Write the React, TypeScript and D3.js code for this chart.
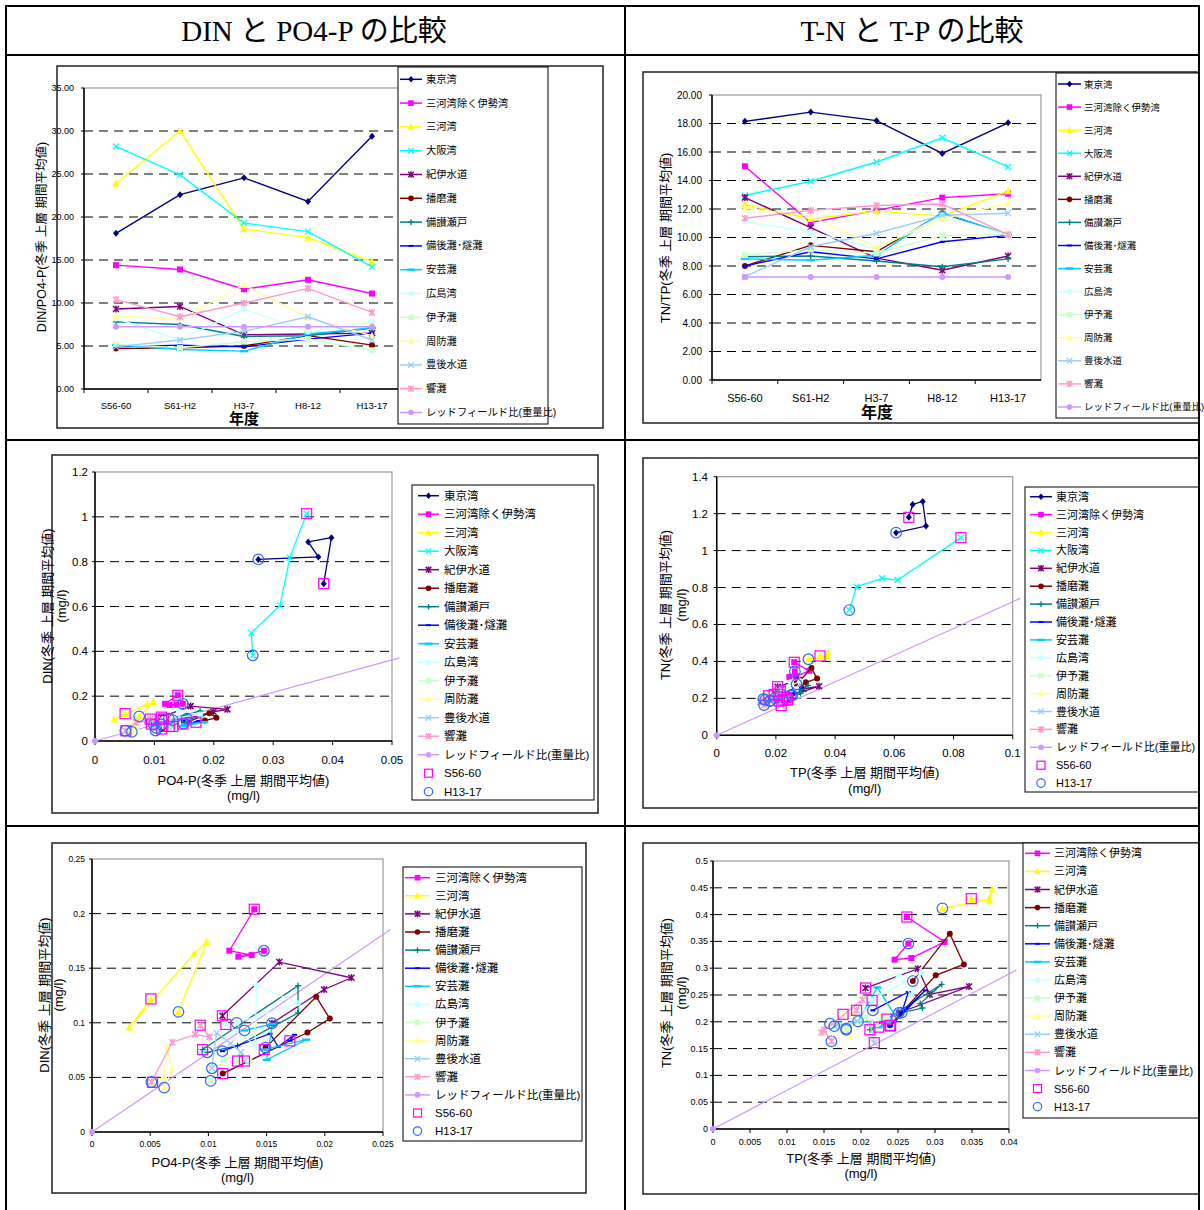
import * as d3 from "d3";
import React from "react";

// 期間と海域
const periods = ["S56-60", "S61-H2", "H3-7", "H8-12", "H13-17"];
const areas = [
  "東京湾", "三河湾除く伊勢湾", "三河湾", "大阪湾", "紀伊水道", "播磨灘", "備讃瀬戸",
  "備後灘･燧灘", "安芸灘", "広島湾", "伊予灘", "周防灘", "豊後水道", "響灘",
];
const areaColors = [
  "#000080", "#FF00FF", "#FFFF00", "#00FFFF", "#800080", "#800000", "#008080",
  "#0000FF", "#00CCFF", "#CCFFFF", "#CCFFCC", "#FFFF99", "#99CCFF", "#FF99CC",
];
const areaMarkers = [
  "diamond", "square", "triangle", "x", "star", "circle", "plus",
  "dash", "longdash", "circle", "square", "triangle", "x", "star",
];
const redfieldName = "レッドフィールド比(重量比)";
const redfieldColor = "#CC99FF";
const redfieldRatio = 7.23;

// DIN/PO4-P 比 (期間平均)
const dinPo4Ratio = [
  [18.1, 22.6, 24.55, 21.8, 29.4],
  [14.4, 13.9, 11.6, 12.7, 11.1],
  [23.9, 30.0, 18.6, 17.6, 14.8],
  [28.2, 24.9, 19.3, 18.3, 14.2],
  [9.3, 9.6, 6.3, 6.4, 6.5],
  [4.7, 4.8, 5.0, 6.2, 5.1],
  [7.8, 7.5, 6.1, 6.2, 7.1],
  [4.9, 5.1, 4.9, 5.8, 6.5],
  [5.1, 4.6, 4.4, 6.4, 7.1],
  [8.2, 5.7, 9.3, 6.7, 7.8],
  [5.2, 4.8, 5.5, 5.8, 4.5],
  [8.5, 8.1, 12.1, 8.3, 6.2],
  [4.9, 5.7, 6.7, 8.4, 5.7],
  [10.4, 8.4, 10.0, 11.7, 8.9],
];

// TN/TP 比
const tnTpRatio = [
  [18.15, 18.8, 18.2, 15.9, 18.05],
  [15.0, 11.05, 11.9, 12.8, 13.07],
  [12.3, 11.3, 11.85, 11.5, 13.25],
  [12.95, 13.95, 15.3, 17.0, 14.95],
  [12.8, 10.7, 8.55, 7.7, 8.7],
  [8.0, 9.45, 9.0, 11.7, 10.2],
  [8.65, 8.7, 8.35, 7.95, 8.5],
  [8.0, 9.0, 8.5, 9.7, 10.15],
  [8.5, 8.4, 8.75, 11.75, 10.2],
  [11.1, 10.4, 9.2, 11.55, 10.2],
  [8.75, 9.15, 8.9, 10.15, 10.2],
  [12.05, 11.5, 9.3, 11.3, 12.4],
  [7.25, 9.35, 10.3, 11.55, 11.7],
  [11.35, 11.9, 12.25, 12.35, 10.2],
];

// PO4-P (mg/l)
const po4p = [
  [0.0385, 0.0398, 0.0359, 0.0376, 0.0275],
  [0.01394, 0.0118, 0.01371, 0.01257, 0.01477],
  [0.00506, 0.0032, 0.00877, 0.00986, 0.00743],
  [0.03563, 0.0328, 0.03115, 0.02633, 0.02655],
  [0.0112, 0.01609, 0.02229, 0.01994, 0.01546],
  [0.01123, 0.01851, 0.02043, 0.01926, 0.01491],
  [0.0095, 0.0177, 0.0177, 0.0125, 0.0099],
  [0.017, 0.0174, 0.016, 0.0153, 0.0112],
  [0.0148, 0.0184, 0.015, 0.0155, 0.0131],
  [0.0115, 0.014, 0.01414, 0.0177, 0.01243],
  [0.0125, 0.0135, 0.0128, 0.0113, 0.0102],
  [0.0052, 0.0062, 0.00643, 0.0069, 0.0062],
  [0.0131, 0.0128, 0.0119, 0.0107, 0.0103],
  [0.0093, 0.0101, 0.00886, 0.0069, 0.0051],
];

// DIN (mg/l)
const din = [
  [0.702, 0.907, 0.888, 0.821, 0.81],
  [0.204, 0.166, 0.162, 0.1605, 0.166],
  [0.1219, 0.0957, 0.1635, 0.1739, 0.11],
  [1.014, 0.818, 0.605, 0.482, 0.382],
  [0.1064, 0.1556, 0.1412, 0.1305, 0.0996],
  [0.0535, 0.0911, 0.1039, 0.1238, 0.0773],
  [0.0755, 0.134, 0.109, 0.079, 0.073],
  [0.0835, 0.089, 0.078, 0.09, 0.074],
  [0.0755, 0.0845, 0.066, 0.099, 0.093],
  [0.0985, 0.08, 0.1345, 0.118, 0.0999],
  [0.065, 0.065, 0.07, 0.066, 0.0468],
  [0.0455, 0.05, 0.078, 0.057, 0.0406],
  [0.065, 0.073, 0.081, 0.0908, 0.0584],
  [0.0978, 0.0871, 0.0892, 0.0822, 0.0458],
];

// TP (mg/l)
const tp = [
  [0.0649, 0.0662, 0.0696, 0.0707, 0.0606],
  [0.0262, 0.0313, 0.0268, 0.02455, 0.0264],
  [0.0349, 0.0374, 0.0377, 0.0372, 0.031],
  [0.0825, 0.0611, 0.0559, 0.0473, 0.0448],
  [0.0206, 0.0277, 0.0293, 0.0346, 0.0251],
  [0.0239, 0.0301, 0.0339, 0.032, 0.027],
  [0.0212, 0.0309, 0.028, 0.0283, 0.0255],
  [0.024, 0.0287, 0.0255, 0.0264, 0.0216],
  [0.0224, 0.0235, 0.0245, 0.0222, 0.0196],
  [0.0215, 0.0282, 0.0268, 0.0251, 0.018],
  [0.0235, 0.023, 0.022, 0.0205, 0.018],
  [0.01757, 0.019, 0.0185, 0.0171, 0.0158],
  [0.0218, 0.0212, 0.0195, 0.0168, 0.0164],
  [0.0194, 0.0202, 0.01464, 0.015, 0.016],
];

// TN (mg/l)
const tn = [
  [1.18, 1.25, 1.266, 1.133, 1.097],
  [0.3955, 0.349, 0.319, 0.316, 0.346],
  [0.4297, 0.4248, 0.447, 0.428, 0.4117],
  [1.07, 0.841, 0.85, 0.805, 0.678],
  [0.263, 0.299, 0.251, 0.266, 0.2164],
  [0.1934, 0.2867, 0.307, 0.3644, 0.276],
  [0.1853, 0.27, 0.234, 0.2257, 0.217],
  [0.192, 0.2587, 0.217, 0.2556, 0.2214],
  [0.19, 0.197, 0.214, 0.264, 0.2009],
  [0.24, 0.293, 0.249, 0.287, 0.187],
  [0.205, 0.21, 0.196, 0.208, 0.185],
  [0.214, 0.218, 0.172, 0.193, 0.1965],
  [0.161, 0.198, 0.201, 0.194, 0.192],
  [0.2214, 0.241, 0.18, 0.185, 0.1636],
];

const allAreas = areas.map((_, i) => i);
const smallAreas = allAreas.filter((i) => i !== 0 && i !== 3);

const SANS = "'Liberation Sans','Noto Sans CJK JP',sans-serif";
const SERIF = "'Liberation Serif','Noto Sans CJK JP',serif";
const startColor = "#FF00FF";
const endColor = "#3366FF";

function Marker({ type, x, y, color, s = 3 }) {
  switch (type) {
    case "diamond":
      return <polygon points={`${x},${y - s - 0.5} ${x + s},${y} ${x},${y + s + 0.5} ${x - s},${y}`} fill={color} />;
    case "square":
      return <rect x={x - s} y={y - s} width={2 * s} height={2 * s} fill={color} />;
    case "triangle":
      return <polygon points={`${x},${y - s - 1} ${x + s + 0.5},${y + s} ${x - s - 0.5},${y + s}`} fill={color} />;
    case "x":
      return <path d={`M${x - s},${y - s}L${x + s},${y + s}M${x - s},${y + s}L${x + s},${y - s}`} stroke={color} strokeWidth={1.3} />;
    case "star":
      return (
        <path
          d={`M${x - s},${y - s}L${x + s},${y + s}M${x - s},${y + s}L${x + s},${y - s}M${x},${y - s - 0.5}L${x},${y + s + 0.5}`}
          stroke={color}
          strokeWidth={1.5}
        />
      );
    case "circle":
      return <circle cx={x} cy={y} r={s} fill={color} />;
    case "plus":
      return <path d={`M${x - s},${y}L${x + s},${y}M${x},${y - s}L${x},${y + s}`} stroke={color} strokeWidth={1.3} />;
    case "dash":
      return <rect x={x - s + 0.5} y={y - 1} width={2 * s - 1} height={2} fill={color} />;
    case "longdash":
      return <rect x={x - s - 1} y={y - 1.2} width={2 * s + 2} height={2.4} fill={color} />;
    default:
      return null;
  }
}

function Legend({ box, items, firstY, gap, lineX0, lineX1, textX, font }) {
  return (
    <g>
      <rect x={box.x} y={box.y} width={box.w} height={box.h} fill="#fff" stroke="#000" strokeWidth={1} />
      {items.map((it, k) => {
        const yy = firstY + k * gap;
        const mx = (lineX0 + lineX1) / 2;
        return (
          <g key={k}>
            {it.kind === "line" && (
              <>
                <line x1={lineX0} x2={lineX1} y1={yy} y2={yy} stroke={it.color} strokeWidth={1.5} />
                <Marker type={it.marker} x={mx} y={yy} color={it.color} s={2.8} />
              </>
            )}
            {it.kind === "openSquare" && (
              <rect x={mx - 4} y={yy - 4} width={8} height={8} fill="none" stroke={startColor} strokeWidth={1.2} />
            )}
            {it.kind === "openCircle" && <circle cx={mx} cy={yy} r={4.2} fill="none" stroke={endColor} strokeWidth={1.2} />}
            <text x={textX} y={yy} dominantBaseline="central" fontSize={font} fontFamily={SANS} fill="#000">
              {it.name}
            </text>
          </g>
        );
      })}
    </g>
  );
}

function areaItems(ids, extra) {
  const items = ids.map((i) => ({ name: areas[i], color: areaColors[i], marker: areaMarkers[i], kind: "line" }));
  items.push({ name: redfieldName, color: redfieldColor, marker: "circle", kind: "line" });
  if (extra) {
    items.push({ name: "S56-60", kind: "openSquare" });
    items.push({ name: "H13-17", kind: "openCircle" });
  }
  return items;
}

function Frame({ f }) {
  return <rect x={f.x} y={f.y} width={f.w} height={f.h} fill="#fff" stroke="#222" strokeWidth={1.5} />;
}

function RotLabel({ x, y, size, children }) {
  return (
    <text
      transform={`translate(${x},${y}) rotate(-90)`}
      textAnchor="middle"
      dominantBaseline="central"
      fontSize={size}
      fontFamily={SANS}
    >
      {children}
    </text>
  );
}

function LineChart({ frame, plot, data, yMax, yStep, tickFont, tickX, catFont, catY, yLabel, yLabelPos, yLabelFont, titlePos, titleFont, legend }) {
  const x = d3.scaleBand().domain(periods).range([plot.left, plot.right]);
  const y = d3.scaleLinear().domain([0, yMax]).range([plot.bottom, plot.top]);
  const yTicks = d3.range(0, yMax + yStep / 2, yStep);
  const cx = (i) => x(periods[i]) + x.bandwidth() / 2;
  const line = d3.line().x((_, i) => cx(i)).y((d) => y(d));
  const fmt = d3.format(".2f");
  const redfield = periods.map(() => redfieldRatio);
  return (
    <g>
      <Frame f={frame} />
      <rect x={plot.left} y={plot.top} width={plot.right - plot.left} height={plot.bottom - plot.top} fill="#fff" stroke="#999" strokeWidth={1.2} />
      {yTicks.slice(1, -1).map((t) => (
        <line key={t} x1={plot.left} x2={plot.right} y1={y(t)} y2={y(t)} stroke="#000" strokeWidth={1} strokeDasharray="9,6" />
      ))}
      <line x1={plot.left} x2={plot.left} y1={plot.top} y2={plot.bottom} stroke="#000" strokeWidth={1.5} />
      <line x1={plot.left} x2={plot.right} y1={plot.bottom} y2={plot.bottom} stroke="#000" strokeWidth={1.5} />
      {yTicks.map((t) => (
        <g key={t}>
          <line x1={plot.left - 3} x2={plot.left} y1={y(t)} y2={y(t)} stroke="#000" />
          <text x={tickX} y={y(t)} textAnchor="end" dominantBaseline="central" fontSize={tickFont} fontFamily={SANS}>
            {fmt(t)}
          </text>
        </g>
      ))}
      {periods.map((p, i) => (
        <g key={p}>
          <line x1={x(p)} x2={x(p)} y1={plot.bottom} y2={plot.bottom + 4} stroke="#000" />
          <text x={cx(i)} y={catY} textAnchor="middle" dominantBaseline="central" fontSize={catFont} fontFamily={SANS}>
            {p}
          </text>
        </g>
      ))}
      {data.map((vals, s) => (
        <g key={s}>
          <path d={line(vals)} fill="none" stroke={areaColors[s]} strokeWidth={1.4} />
          {vals.map((v, i) => (
            <Marker key={i} type={areaMarkers[s]} x={cx(i)} y={y(v)} color={areaColors[s]} />
          ))}
        </g>
      ))}
      <path d={line(redfield)} fill="none" stroke={redfieldColor} strokeWidth={1.4} />
      {redfield.map((v, i) => (
        <Marker key={i} type="circle" x={cx(i)} y={y(v)} color={redfieldColor} />
      ))}
      <RotLabel x={yLabelPos[0]} y={yLabelPos[1]} size={yLabelFont}>
        {yLabel}
      </RotLabel>
      <text x={titlePos[0]} y={titlePos[1]} textAnchor="middle" dominantBaseline="central" fontSize={titleFont} fontWeight="bold" fontFamily={SANS}>
        年度
      </text>
      <Legend {...legend} items={areaItems(allAreas, false)} />
    </g>
  );
}

function ScatterChart({ frame, plot, ids, xs, ys, xMax, xStep, yMax, yStep, tickFont, yTickX, xTickY, xTitle, xTitleY, yTitle, yTitleX, yTitleY, legend }) {
  const x = d3.scaleLinear().domain([0, xMax]).range([plot.left, plot.right]);
  const y = d3.scaleLinear().domain([0, yMax]).range([plot.bottom, plot.top]);
  const xTicks = d3.range(0, xMax + xStep / 2, xStep);
  const yTicks = d3.range(0, yMax + yStep / 2, yStep);
  const fmt = (v) => `${+v.toFixed(4)}`;
  const line = d3.line().x((d) => x(d[0])).y((d) => y(d[1]));
  const rEnd = x.invert(plot.right + 7.5);
  const midX = (plot.left + plot.right) / 2;
  return (
    <g>
      <Frame f={frame} />
      <rect x={plot.left} y={plot.top} width={plot.right - plot.left} height={plot.bottom - plot.top} fill="#fff" stroke="#999" strokeWidth={1.2} />
      {yTicks.slice(1, -1).map((t) => (
        <line key={t} x1={plot.left} x2={plot.right} y1={y(t)} y2={y(t)} stroke="#000" strokeWidth={1} strokeDasharray="9,6" />
      ))}
      <line x1={plot.left} x2={plot.left} y1={plot.top} y2={plot.bottom} stroke="#000" strokeWidth={1.5} />
      <line x1={plot.left} x2={plot.right} y1={plot.bottom} y2={plot.bottom} stroke="#000" strokeWidth={1.5} />
      {yTicks.map((t) => (
        <g key={t}>
          <line x1={plot.left - 3} x2={plot.left} y1={y(t)} y2={y(t)} stroke="#000" />
          <text x={yTickX} y={y(t)} textAnchor="end" dominantBaseline="central" fontSize={tickFont} fontFamily={SANS}>
            {fmt(t)}
          </text>
        </g>
      ))}
      {xTicks.map((t) => (
        <g key={t}>
          <line x1={x(t)} x2={x(t)} y1={plot.bottom} y2={plot.bottom + 4} stroke="#000" />
          <text x={x(t)} y={xTickY} textAnchor="middle" dominantBaseline="central" fontSize={tickFont} fontFamily={SANS}>
            {fmt(t)}
          </text>
        </g>
      ))}
      <path d={line([[0, 0], [rEnd, rEnd * redfieldRatio]])} fill="none" stroke={redfieldColor} strokeWidth={1.2} />
      <Marker type="circle" x={x(0)} y={y(0)} color={redfieldColor} />
      {ids.map((s) => {
        const pts = periods.map((_, i) => [xs[s][i], ys[s][i]]);
        return (
          <g key={s}>
            <path d={line(pts)} fill="none" stroke={areaColors[s]} strokeWidth={1.3} />
            {pts.map((d, i) => (
              <Marker key={i} type={areaMarkers[s]} x={x(d[0])} y={y(d[1])} color={areaColors[s]} />
            ))}
          </g>
        );
      })}
      {ids.map((s) => (
        <g key={`o${s}`}>
          <rect x={x(xs[s][0]) - 5} y={y(ys[s][0]) - 5} width={10} height={10} fill="none" stroke={startColor} strokeWidth={1.2} />
          <circle cx={x(xs[s][4])} cy={y(ys[s][4])} r={5.3} fill="none" stroke={endColor} strokeWidth={1.2} />
        </g>
      ))}
      <text x={midX} y={xTitleY[0]} textAnchor="middle" dominantBaseline="central" fontSize={13} fontFamily={SANS}>
        {xTitle}
      </text>
      <text x={midX} y={xTitleY[1]} textAnchor="middle" dominantBaseline="central" fontSize={13} fontFamily={SANS}>
        (mg/l)
      </text>
      <RotLabel x={yTitleX[0]} y={yTitleY} size={13}>
        {yTitle}
      </RotLabel>
      <RotLabel x={yTitleX[1]} y={yTitleY} size={13}>
        (mg/l)
      </RotLabel>
      <Legend {...legend} items={areaItems(ids, true)} />
    </g>
  );
}

export default function App() {
  const W = 1204;
  const H = 1210;
  return (
    <svg width={W} height={H} style={{ position: "absolute", left: 0, top: 0, background: "#fff" }}>
      <rect x={0} y={0} width={W} height={H} fill="#fff" />
      <text x={314} y={31} textAnchor="middle" dominantBaseline="central" fontSize={29} fontFamily={SERIF}>
        DIN と PO4-P の比較
      </text>
      <text x={912} y={31} textAnchor="middle" dominantBaseline="central" fontSize={29} fontFamily={SERIF}>
        T-N と T-P の比較
      </text>

      <LineChart
        frame={{ x: 57, y: 66, w: 546, h: 362 }}
        plot={{ left: 84, right: 404, top: 88, bottom: 389 }}
        data={dinPo4Ratio}
        yMax={35}
        yStep={5}
        tickFont={9}
        tickX={74}
        catFont={9.5}
        catY={405}
        yLabel="DIN/PO4-P(冬季 上層 期間平均値)"
        yLabelPos={[42, 237]}
        yLabelFont={12.5}
        titlePos={[244, 418]}
        titleFont={15}
        legend={{ box: { x: 398, y: 67, w: 150, h: 357 }, firstY: 79.3, gap: 23.8, lineX0: 400, lineX1: 422, textX: 426, font: 10.3 }}
      />
      <LineChart
        frame={{ x: 643, y: 72, w: 556, h: 351 }}
        plot={{ left: 712, right: 1041, top: 95, bottom: 380 }}
        data={tnTpRatio}
        yMax={20}
        yStep={2}
        tickFont={10}
        tickX={702}
        catFont={11}
        catY={398}
        yLabel="TN/TP(冬季 上層 期間平均値)"
        yLabelPos={[665, 238]}
        yLabelFont={13}
        titlePos={[877, 412]}
        titleFont={16}
        legend={{ box: { x: 1056, y: 73, w: 143, h: 345 }, firstY: 84, gap: 23.07, lineX0: 1058, lineX1: 1081, textX: 1084, font: 9.5 }}
      />

      <ScatterChart
        frame={{ x: 52, y: 455, w: 546, h: 358 }}
        plot={{ left: 95, right: 392, top: 472, bottom: 741 }}
        ids={allAreas}
        xs={po4p}
        ys={din}
        xMax={0.05}
        xStep={0.01}
        yMax={1.2}
        yStep={0.2}
        tickFont={11.5}
        yTickX={88}
        xTickY={760}
        xTitle="PO4-P(冬季 上層 期間平均値)"
        xTitleY={[780, 795]}
        yTitle="DIN(冬季 上層 期間平均値)"
        yTitleX={[47, 61]}
        yTitleY={606}
        legend={{ box: { x: 412, y: 485, w: 182, h: 315 }, firstY: 495.7, gap: 18.5, lineX0: 418, lineX1: 439, textX: 444, font: 11.5 }}
      />
      <ScatterChart
        frame={{ x: 643, y: 458, w: 556, h: 350 }}
        plot={{ left: 716.7, right: 1012.7, top: 476.7, bottom: 735.3 }}
        ids={allAreas}
        xs={tp}
        ys={tn}
        xMax={0.1}
        xStep={0.02}
        yMax={1.4}
        yStep={0.2}
        tickFont={11.5}
        yTickX={708}
        xTickY={753}
        xTitle="TP(冬季 上層 期間平均値)"
        xTitleY={[772, 788]}
        yTitle="TN(冬季 上層 期間平均値)"
        yTitleX={[665, 681]}
        yTitleY={605}
        legend={{ box: { x: 1025, y: 487, w: 174, h: 305 }, firstY: 496.7, gap: 17.9, lineX0: 1030, lineX1: 1052, textX: 1056, font: 11 }}
      />

      <ScatterChart
        frame={{ x: 52, y: 843, w: 534, h: 350 }}
        plot={{ left: 92, right: 383, top: 859, bottom: 1132 }}
        ids={smallAreas}
        xs={po4p}
        ys={din}
        xMax={0.025}
        xStep={0.005}
        yMax={0.25}
        yStep={0.05}
        tickFont={8.5}
        yTickX={85}
        xTickY={1144}
        xTitle="PO4-P(冬季 上層 期間平均値)"
        xTitleY={[1162, 1177]}
        yTitle="DIN(冬季 上層 期間平均値)"
        yTitleX={[44, 58]}
        yTitleY={995}
        legend={{ box: { x: 403, y: 867, w: 179, h: 274 }, firstY: 877.7, gap: 18.1, lineX0: 405, lineX1: 430, textX: 435, font: 11.5 }}
      />
      <ScatterChart
        frame={{ x: 643, y: 843, w: 556, h: 351 }}
        plot={{ left: 713, right: 1009, top: 861, bottom: 1129 }}
        ids={smallAreas}
        xs={tp}
        ys={tn}
        xMax={0.04}
        xStep={0.005}
        yMax={0.5}
        yStep={0.05}
        tickFont={9}
        yTickX={708}
        xTickY={1142}
        xTitle="TP(冬季 上層 期間平均値)"
        xTitleY={[1158, 1173]}
        yTitle="TN(冬季 上層 期間平均値)"
        yTitleX={[666, 681]}
        yTitleY={993}
        legend={{ box: { x: 1023, y: 843, w: 176, h: 275 }, firstY: 853.3, gap: 18.1, lineX0: 1025, lineX1: 1050, textX: 1054, font: 11 }}
      />

      {/* 表の罫線 */}
      <rect x={6} y={6} width={1193} height={1210} fill="none" stroke="#000" strokeWidth={2} />
      <line x1={625} x2={625} y1={6} y2={H} stroke="#000" strokeWidth={2} />
      <line x1={6} x2={1199} y1={55} y2={55} stroke="#000" strokeWidth={2} />
      <line x1={6} x2={1199} y1={440} y2={440} stroke="#000" strokeWidth={2} />
      <line x1={6} x2={1199} y1={826} y2={826} stroke="#000" strokeWidth={2} />
    </svg>
  );
}
